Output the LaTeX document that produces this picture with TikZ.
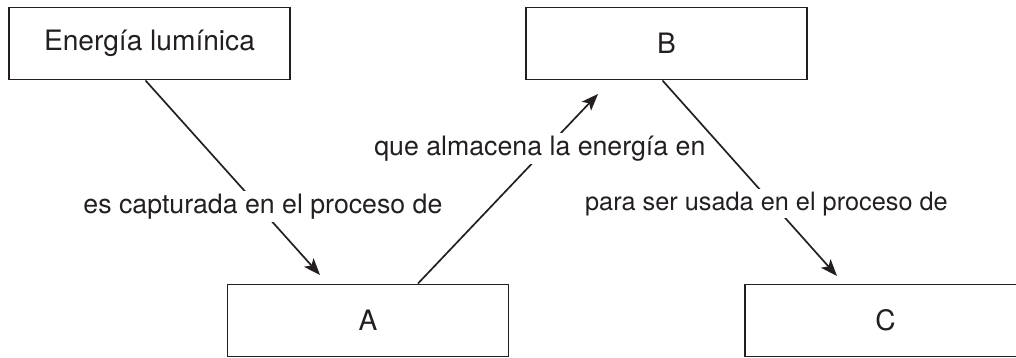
\documentclass[tikz,border=0pt]{standalone}
\usepackage{fontspec}
\setmainfont{TeX Gyre Heros}
\usetikzlibrary{arrows.meta,calc}
\definecolor{ink}{RGB}{35,31,32}

\begin{document}
\begin{tikzpicture}[
  box/.style={rectangle, draw=ink, line width=1.4pt, minimum width=7.025cm, minimum height=1.8cm, inner sep=0, text=ink, font=\fontsize{20}{24}\selectfont},
  lbl/.style={fill=white, text=ink, inner sep=2pt, xshift=-0.15cm, font=\fontsize{19}{23}\selectfont},
  conn/.style={draw=ink, line width=1.2pt, -{Stealth[length=0.42cm,width=0.32cm,inset=0.1cm]}}]
\useasboundingbox (0,0) rectangle (25.4,8.95);

\node[box] at (3.7375,7.8625) (lum) {Energía lumínica};
\node[box] at (16.6625,7.8625) (b) {B};
\node[box] at (9.2,0.9375) (a) {A};
\node[box] at (22.1375,0.9375) (c) {C};

% free ends of the arrows
\coordinate (lum out) at ($(lum.south)+(-0.1,0)$);
\coordinate (a in) at ($(a.north)+(-1.2,0.2125)$);
\coordinate (a out) at ($(a.north)+(1.25,0)$);
\coordinate (b in) at ($(b.south)+(-1.7125,-0.3375)$);
\coordinate (b out) at ($(b.south)+(-0.1,0)$);
\coordinate (c in) at ($(c.north)+(-1.2125,0.1875)$);

\path
    (lum out) edge[conn] node [lbl, pos=0.65, xshift=0.25cm] {es capturada en el proceso de} (a in)
    (a out) edge[conn] node [lbl, pos=0.71] {que almacena la energía en} (b in)
    (b out) edge[conn] node [lbl, pos=0.63, font=\fontsize{18}{22}\selectfont] {para ser usada en el proceso de} (c in);

\end{tikzpicture}
\end{document}
